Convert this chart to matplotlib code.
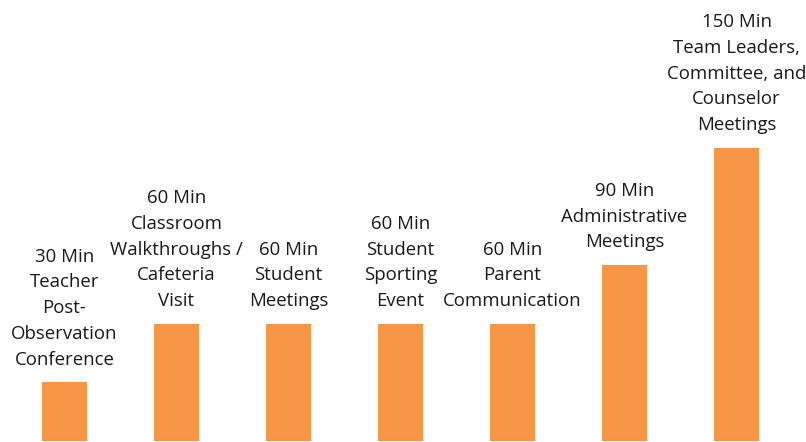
import matplotlib.pyplot as plt

minutes = [30, 60, 60, 60, 60, 90, 150]
activities = [
    "Teacher\nPost-\nObservation\nConference",
    "Classroom\nWalkthroughs /\nCafeteria\nVisit",
    "Student\nMeetings",
    "Student\nSporting\nEvent",
    "Parent\nCommunication",
    "Administrative\nMeetings",
    "Team Leaders,\nCommittee, and\nCounselor\nMeetings",
]

plt.rcParams['font.family'] = ['Open Sans', 'DejaVu Sans']

fig = plt.figure(figsize=(8.06, 4.42), dpi=100)
ax = fig.add_axes([0, 1 / 442, 1, 441 / 442])

x = list(range(len(minutes)))
ax.bar(x, minutes, width=0.40, color='#F79646')

for xi, m, name in zip(x, minutes, activities):
    ax.annotate(f"{m} Min\n{name}", (xi, m), xytext=(0, 10),
                textcoords='offset points', ha='center', va='bottom',
                fontsize=13.4, color='#1a1a1a', linespacing=1.55)

ax.set_xlim(-0.576, 6.62)
ax.set_ylim(0, 225.8)
ax.axis('off')

fig.savefig("out.png", dpi=100)
